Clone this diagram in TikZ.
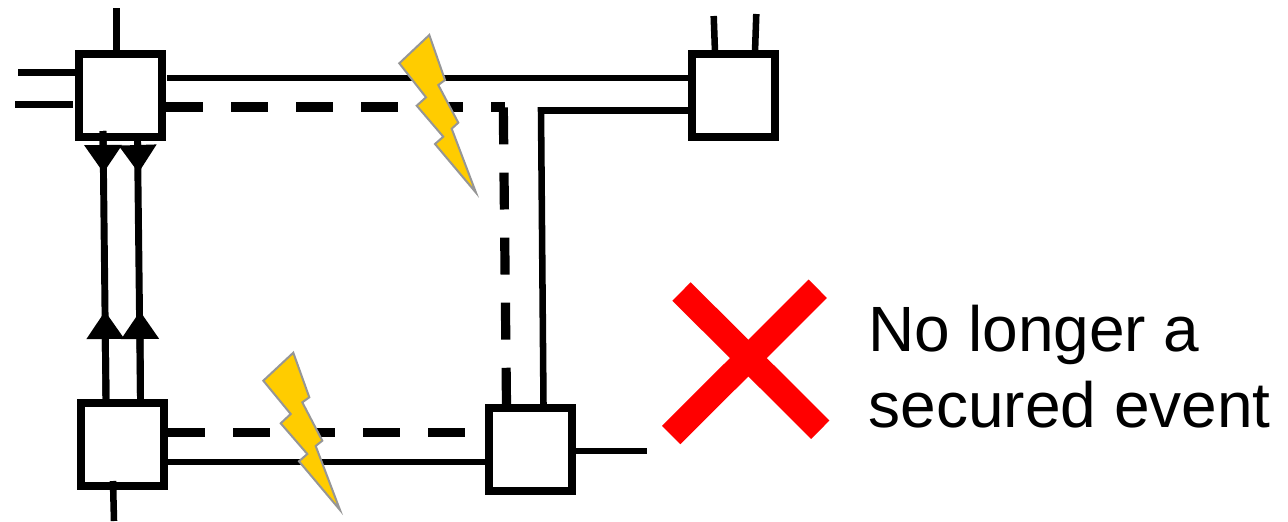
\documentclass[tikz,border=0pt]{standalone}
\usepackage{fontspec}
\setmainfont{Liberation Sans}
\usetikzlibrary{arrows.meta}
\tikzset{
  x=0.75pt,y=-0.75pt,
  boxnode/.style={draw=black,line width=6pt,fill=white,minimum width=62.25pt,minimum height=62.25pt,inner sep=0pt,outer sep=0pt},
  thin wire/.style={draw=black,line width=4.9pt},
  shaft wire/.style={draw=black,line width=5.2pt},
  dash wire/.style={draw=black,line width=6.9pt,dash pattern=on 27.7pt off 21.1pt},
  arrow wire/.style={draw=black,line width=5.2pt,-{Triangle[width=27pt,length=21pt]}},
  bolt/.style={draw={rgb,255:red,150;green,150;blue,150},line width=1.5pt,fill={rgb,255:red,255;green,204;blue,0},line join=miter},
  cross/.style={draw={rgb,255:red,255;green,0;blue,0},line width=19.5pt},
  label text/.style={font=\fontsize{48pt}{57pt}\selectfont,align=left,inner sep=0pt,anchor=base west}
}
\begin{document}
\begin{tikzpicture}
\useasboundingbox (0,0) rectangle (1288,521);
% coordinates
\coordinate (a1t) at (103,131); \coordinate (a1u) at (103.5,173); \coordinate (a1l) at (105,311); \coordinate (a1b) at (106,399);
\coordinate (a2t) at (137.5,141); \coordinate (a2u) at (138.5,173); \coordinate (a2l) at (140,311); \coordinate (a2b) at (140.5,399);
\coordinate (s1) at (116.5,8); \coordinate (s1e) at (116.5,50);
\coordinate (s2) at (18,72.5); \coordinate (s2e) at (77,72.5);
\coordinate (s3) at (15,104.5); \coordinate (s3e) at (73,104.5);
\coordinate (s4) at (713.7,16); \coordinate (s4e) at (715,52);
\coordinate (s5) at (756.3,14); \coordinate (s5e) at (755,52);
\coordinate (s6) at (113,481); \coordinate (s6e) at (114,521);
\coordinate (s7) at (576,451); \coordinate (s7e) at (647,451);
\coordinate (t1) at (167,78); \coordinate (t1e) at (690,78);
\coordinate (d1) at (166,107); \coordinate (d1c) at (505,107); \coordinate (d1v) at (503.3,107.5); \coordinate (d1e) at (506.5,405);
\coordinate (t2) at (691,110.5); \coordinate (t2c) at (541,110.5); \coordinate (t2e) at (543.5,405);
\coordinate (d2) at (168,432.5); \coordinate (d2e) at (466,432.5);
\coordinate (t3) at (168,462); \coordinate (t3e) at (486,462);
% connectors under boxes
\draw[thin wire] (s1)--(s1e);
\draw[thin wire] (s2)--(s2e);
\draw[thin wire] (s3)--(s3e);
\draw[thin wire] (s4)--(s4e);
\draw[thin wire] (s5)--(s5e);
\draw[thin wire] (s7)--(s7e);
\draw[thin wire] (t1)--(t1e);
\draw[dash wire] (d1)--(d1c);
\draw[dash wire] (d1v)--(d1e);
\draw[thin wire] (t2)--(t2c)--(t2e);
\draw[dash wire] (d2)--(d2e);
\draw[thin wire] (t3)--(t3e);
% boxes
\node[boxnode] (A) at (120.5,95.5) {};
\node[boxnode] (B) at (733.5,95.5) {};
\node[boxnode] (C) at (122.75,444.5) {};
\node[boxnode] (D) at (530.5,449.5) {};
% connectors above boxes
\draw[thin wire] (s6)--(s6e);
\draw[shaft wire] (a1t)--(a1b);
\draw[shaft wire] (a2t)--(a2b);
\draw[arrow wire] (a1t)--(a1u);
\draw[arrow wire] (a2t)--(a2u);
\draw[arrow wire] (a1b)--(a1l);
\draw[arrow wire] (a2b)--(a2l);
% bolts
\path[bolt] (429.3,35)--(445,80)--(438.3,85)--(458.3,122.7)--(451.7,128.7)--(476,192.7)--(435,144)--(443.3,136.7)--(416.7,105.7)--(426,97.3)--(399.3,63.3)--cycle;
\path[bolt] (293.3,352.7)--(309.3,397.3)--(302.3,402.3)--(322.3,440.7)--(315.7,446)--(340,510)--(299,461.3)--(307.3,454)--(280.7,423.3)--(290.7,414)--(263.3,380.7)--cycle;
% cross
\coordinate (x1) at (681.5,291.5); \coordinate (x2) at (820.3,429.7);
\coordinate (x3) at (817.8,288.8); \coordinate (x4) at (671.2,435);
\draw[cross] (x1)--(x2);
\draw[cross] (x3)--(x4);
% text
\node[label text] (L1) at (868.5,351) {No longer a};
\node[label text] (L2) at (868.5,427) {secured event};
\end{tikzpicture}
\end{document}
